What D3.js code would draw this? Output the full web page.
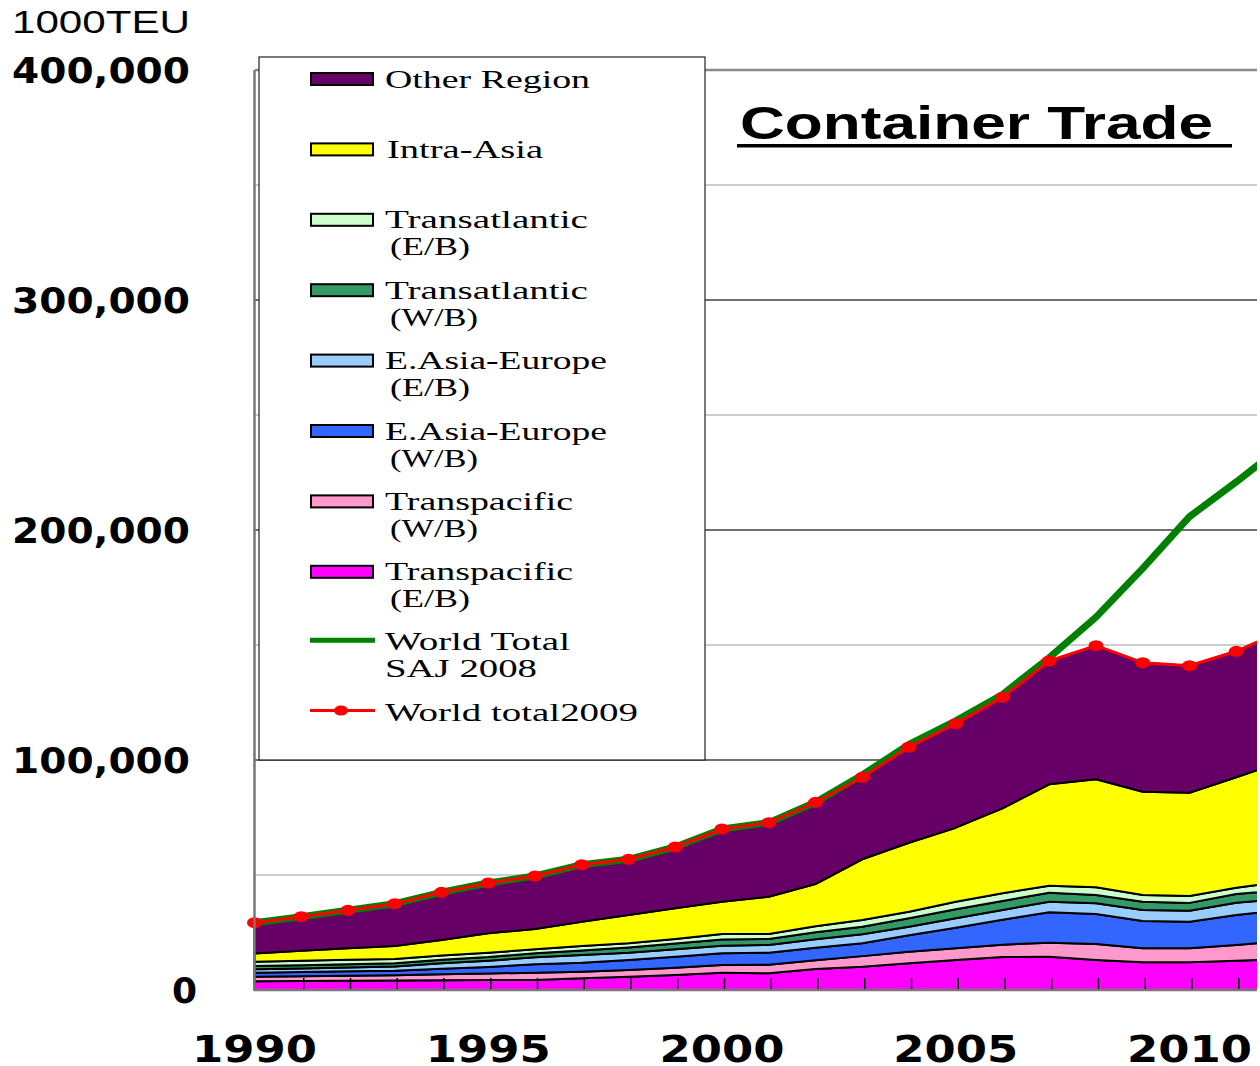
<!DOCTYPE html>
<html><head><meta charset="utf-8">
<script src="https://cdn.jsdelivr.net/npm/d3@7"></script>
<style>body{margin:0;background:#fff}svg{display:block}</style>
</head><body>
<svg id="chart" width="1260" height="1066"></svg>
<script>
// ---------- DATA (thousand TEU) ----------
const years = [1990,1991,1992,1993,1994,1995,1996,1997,1998,1999,2000,2001,2002,2003,2004,2005,2006,2007,2008,2009,2010,2011,2012];
const transpacificEB = [3800,3900,4000,4100,4200,4300,4350,5090,5780,6520,7520,7260,9130,10130,11610,13040,14350,14480,13040,12040,12040,12740,13390];
const transpacificWB = [2000,2100,2200,2300,2600,2900,3170,2870,2920,3180,3350,3700,3800,4600,5040,5090,5350,6090,6960,6090,6090,6830,7780];
const asiaEuropeWB   = [1700,1800,1900,2000,2400,2800,3650,3910,4340,4780,5090,5260,5420,5570,7200,8900,10870,13210,13040,11870,11570,13040,13610];
const asiaEuropeEB   = [1500,1600,1700,1800,2400,2700,3050,3350,3180,3220,3300,3350,3690,3920,3670,4140,4210,4610,4660,4780,4780,5350,4790];
const transatlanticWB= [1400,1400,1400,1400,1500,1600,1740,2000,2300,2500,2700,2600,3100,3300,3650,3900,3920,3910,3600,3610,3400,3780,4000];
const transatlanticEB= [1900,1900,1900,1900,1900,1900,1740,1910,1780,1970,2390,2180,2600,2910,2870,3320,3340,3050,3350,2910,2990,2740,3470];
const intraAsia      = [3600,4390,5030,5630,6740,8450,8820,10570,12300,13350,14040,16220,18350,26400,30000,32180,36960,44080,46960,44920,44910,48000,52350];
const otherRegion    = [13360,14780,16520,18390,20740,21870,23050,24780,24230,26650,31610,32170,35520,35650,41610,45230,48250,53610,58090,56080,55220,54780,56960];
const worldTotalSAJ2008 = [29260,31870,34650,37520,42480,46520,49570,54480,56830,62170,70000,72740,81610,93500,106800,117000,128500,144500,162100,183350,205800,220900,236800];
const worldTotal2009    = [29260,31870,34650,37520,42480,46520,49570,54480,56830,62170,70000,72740,81610,92480,105650,115800,127250,143040,149700,142300,141000,147260,156350];

const yTicks = [0,100000,200000,300000,400000];
const yGrid = [50000,100000,150000,200000,250000,300000,350000,400000];
const xLabels = [1990,1995,2000,2005,2010];

const seriesKeys = ["tpEB","tpWB","aeWB","aeEB","taWB","taEB","ia","other"];
const seriesNames = {other:["Other Region"], ia:["Intra-Asia"], taEB:["Transatlantic","(E/B)"], taWB:["Transatlantic","(W/B)"],
  aeEB:["E.Asia-Europe","(E/B)"], aeWB:["E.Asia-Europe","(W/B)"], tpWB:["Transpacific","(W/B)"], tpEB:["Transpacific","(E/B)"]};
const colors = {tpEB:"#FF00FF", tpWB:"#FF99CC", aeWB:"#3366FF", aeEB:"#99CCFF", taWB:"#339966", taEB:"#CCFFCC", ia:"#FFFF00", other:"#660066"};

const table = years.map((yr,i)=>({year:yr, tpEB:transpacificEB[i], tpWB:transpacificWB[i], aeWB:asiaEuropeWB[i],
  aeEB:asiaEuropeEB[i], taWB:transatlanticWB[i], taEB:transatlanticEB[i], ia:intraAsia[i], other:otherRegion[i]}));

// ---------- CHART ----------
const svg = d3.select("#chart");
const x = d3.scaleLinear().domain([1990, 2011]).range([254.5, 1236.25]);
const y = d3.scaleLinear().domain([0, 400000]).range([990, 70]);

svg.append("defs").append("clipPath").attr("id","plotclip")
  .append("rect").attr("x",200).attr("y",0).attr("width",1057).attr("height",1000);

// gridlines
svg.append("g").selectAll("line").data(yGrid).join("line")
  .attr("x1",255).attr("x2",1257).attr("y1",d=>y(d)).attr("y2",d=>y(d))
  .attr("stroke",d=> d===400000 ? "#8a8a8a" : (d%100000===0 ? "#404040" : "#bdbdbd"))
  .attr("stroke-width",d=> d===400000 ? 2.5 : 1.5);

const plot = svg.append("g").attr("clip-path","url(#plotclip)");

const stack = d3.stack().keys(seriesKeys);
const layers = stack(table);
const area = d3.area().x(d=>x(d.data.year)).y0(d=>y(d[0])).y1(d=>y(d[1]));
plot.selectAll("path.layer").data(layers).join("path").attr("class","layer")
  .attr("d",area).attr("fill",d=>colors[d.key]).attr("stroke","#000").attr("stroke-width",2).attr("stroke-linejoin","round");

// x ticks (inside)
plot.append("g").selectAll("line").data(years.slice(1)).join("line")
  .attr("x1",d=>x(d)+2.5).attr("x2",d=>x(d)+2.5).attr("y1",990).attr("y2",978)
  .attr("stroke","#000").attr("stroke-width",1.5);

// axes lines
svg.append("line").attr("x1",254).attr("x2",1257).attr("y1",990).attr("y2",990).attr("stroke","#777").attr("stroke-width",2.5);
svg.append("line").attr("x1",254.5).attr("x2",254.5).attr("y1",70).attr("y2",991).attr("stroke","#777").attr("stroke-width",2.5);

// lines
const lineGreen = d3.line().x((d,i)=>x(years[i])).y(d=>y(d));
plot.append("path").attr("d",lineGreen(worldTotalSAJ2008)).attr("fill","none").attr("stroke","#008000").attr("stroke-width",7).attr("stroke-linejoin","round");
plot.append("path").attr("d",lineGreen(worldTotal2009)).attr("fill","none").attr("stroke","#FF0000").attr("stroke-width",3).attr("stroke-linejoin","round");
plot.append("g").selectAll("ellipse").data(worldTotal2009).join("ellipse")
  .attr("cx",(d,i)=>x(years[i])).attr("cy",d=>y(d)).attr("rx",7.5).attr("ry",5.5).attr("fill","#FF0000");

// ---------- LEGEND ----------
const lg = svg.append("g");
lg.append("rect").attr("x",259).attr("y",57).attr("width",446).attr("height",703).attr("fill","#fff").attr("stroke","#222").attr("stroke-width",1.2);
const legendOrder = ["other","ia","taEB","taWB","aeEB","aeWB","tpWB","tpEB"];
const widths1 = {other:205, ia:156, taEB:203, taWB:203, aeEB:222, aeWB:222, tpWB:188, tpEB:188};
const widths2 = {"(E/B)":80, "(W/B)":88};
const pitch = 70.4, c0 = 79;
legendOrder.forEach((k,i)=>{
  const cy = c0 + i*pitch;
  lg.append("rect").attr("x",311).attr("y",cy-6).attr("width",62).attr("height",12).attr("fill",colors[k]).attr("stroke","#000").attr("stroke-width",2);
  const names = seriesNames[k];
  lg.append("text").attr("x", k==="ia"?387:385).attr("y",cy+8.5).text(names[0])
    .attr("font-family","Liberation Serif").attr("font-size",25)
    .attr("textLength",widths1[k]).attr("lengthAdjust","spacingAndGlyphs");
  if(names[1]) lg.append("text").attr("x",390).attr("y",cy+35.5).text(names[1])
    .attr("font-family","Liberation Serif").attr("font-size",25)
    .attr("textLength",widths2[names[1]]).attr("lengthAdjust","spacingAndGlyphs");
});
{
  const cyG = c0 + 8*pitch - 2, cyR = c0 + 9*pitch - 2;
  lg.append("line").attr("x1",310).attr("x2",375).attr("y1",cyG).attr("y2",cyG).attr("stroke","#008000").attr("stroke-width",5);
  lg.append("text").attr("x",385).attr("y",cyG+10).text("World Total").attr("font-family","Liberation Serif").attr("font-size",25)
    .attr("textLength",185).attr("lengthAdjust","spacingAndGlyphs");
  lg.append("text").attr("x",385).attr("y",cyG+37).text("SAJ 2008").attr("font-family","Liberation Serif").attr("font-size",25)
    .attr("textLength",152).attr("lengthAdjust","spacingAndGlyphs");
  lg.append("line").attr("x1",310).attr("x2",375).attr("y1",cyR).attr("y2",cyR).attr("stroke","#FF0000").attr("stroke-width",3);
  lg.append("ellipse").attr("cx",341).attr("cy",cyR).attr("rx",7).attr("ry",5).attr("fill","#FF0000");
  lg.append("text").attr("x",385).attr("y",cyR+10).text("World total2009").attr("font-family","Liberation Serif").attr("font-size",25)
    .attr("textLength",253).attr("lengthAdjust","spacingAndGlyphs");
}

// ---------- TITLE ----------
svg.append("text").attr("x",740).attr("y",139).text("Container Trade")
  .attr("font-family","Liberation Sans").attr("font-weight","bold").attr("font-size",46)
  .attr("textLength",473).attr("lengthAdjust","spacingAndGlyphs");
svg.append("rect").attr("x",737).attr("y",144).attr("width",495).attr("height",3.5).attr("fill","#000");

// ---------- AXIS LABELS ----------
svg.append("text").attr("x",12).attr("y",33).text("1000TEU")
  .attr("font-family","Liberation Sans").attr("font-size",31)
  .attr("textLength",178).attr("lengthAdjust","spacingAndGlyphs");
const fmt = d3.format(",");
svg.append("g").selectAll("text").data(yTicks).join("text")
  .attr("x",d=> d===0 ? 197 : 12).attr("y",d=>y(d)+13)
  .attr("text-anchor",d=> d===0 ? "end" : "start")
  .text(d=>fmt(d))
  .attr("font-family","DejaVu Sans").attr("font-weight","bold").attr("font-size",36)
  .each(function(d){ if(d!==0) d3.select(this).attr("textLength",178).attr("lengthAdjust","spacingAndGlyphs"); });
svg.append("g").selectAll("text").data(xLabels).join("text")
  .attr("x",d=>x(d)-62.5).attr("y",1062).text(d=>d)
  .attr("font-family","DejaVu Sans").attr("font-weight","bold").attr("font-size",37)
  .attr("textLength",125).attr("lengthAdjust","spacingAndGlyphs");
</script>
</body></html>
